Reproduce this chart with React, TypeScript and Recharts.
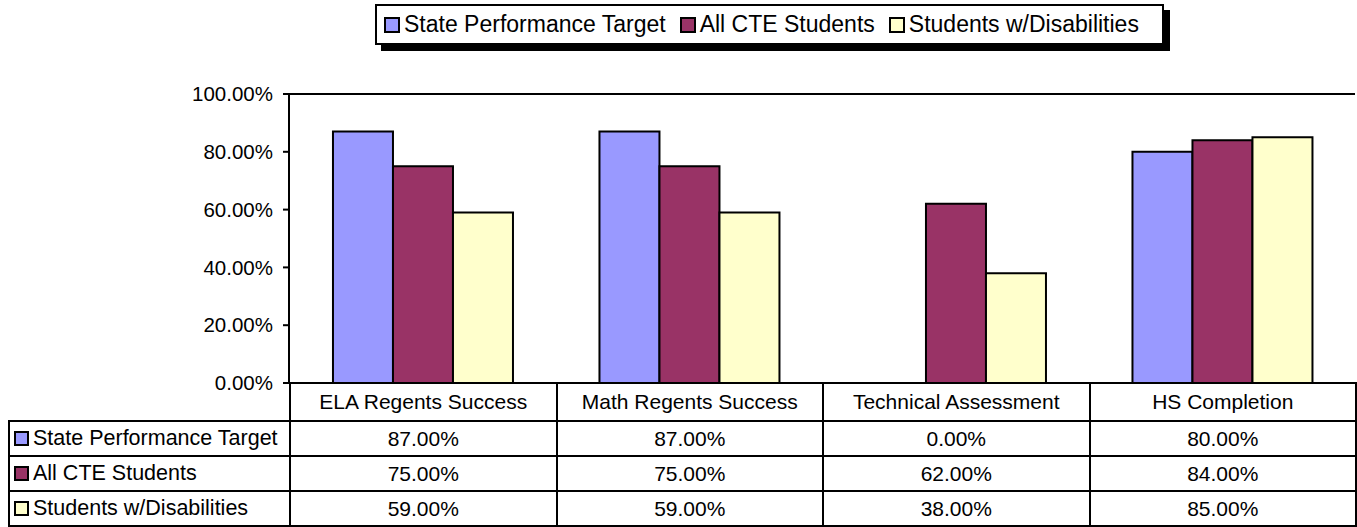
import { BarChart, Bar, XAxis, YAxis, ReferenceLine } from "recharts";

const categories = [
  "ELA Regents Success",
  "Math Regents Success",
  "Technical Assessment",
  "HS Completion",
];
const stateTarget = [0.87, 0.87, 0, 0.8];
const allCte = [0.75, 0.75, 0.62, 0.84];
const disabilities = [0.59, 0.59, 0.38, 0.85];
const yTicks = [0, 0.2, 0.4, 0.6, 0.8, 1];

const series = [
  { key: "target", name: "State Performance Target", color: "#9999FF", values: stateTarget },
  { key: "cte", name: "All CTE Students", color: "#993366", values: allCte },
  { key: "swd", name: "Students w/Disabilities", color: "#FFFFCC", values: disabilities },
];

const data = categories.map((c, i) => ({
  name: c,
  target: stateTarget[i],
  cte: allCte[i],
  swd: disabilities[i],
}));

const font = '"Liberation Sans", Arial, sans-serif';
const pct = (v: number) => `${(v * 100).toFixed(2)}%`;

function Swatch({ color, size = 14, gap = 4 }: { color: string; size?: number; gap?: number }) {
  return (
    <span
      style={{
        display: "inline-block",
        boxSizing: "border-box",
        width: size,
        height: size,
        background: color,
        border: "2px solid #000",
        marginRight: gap,
        flexShrink: 0,
      }}
    />
  );
}

function LegendBox() {
  return (
    <div
      style={{
        position: "absolute",
        left: 375,
        top: 4,
        width: 789,
        height: 41,
        boxSizing: "border-box",
        border: "2px solid #000",
        boxShadow: "6px 6px 0 #000",
        background: "#fff",
        paddingLeft: 7,
        fontFamily: font,
        fontSize: 23,
        color: "#000",
        whiteSpace: "nowrap",
        display: "flex",
        alignItems: "center",
      }}
    >
      {series.map((s) => (
        <span key={s.key} style={{ display: "flex", alignItems: "center", marginRight: 14 }}>
          <Swatch color={s.color} size={16} gap={4} />
          {s.name}
        </span>
      ))}
    </div>
  );
}

const cell = {
  border: "2px solid #000",
  textAlign: "center" as const,
  padding: 0,
  height: 33,
  fontSize: 21,
};

function DataTable() {
  return (
    <table
      style={{
        position: "absolute",
        left: 8,
        top: 382,
        borderCollapse: "collapse",
        tableLayout: "fixed",
        fontFamily: font,
        color: "#000",
      }}
    >
      <colgroup>
        <col style={{ width: 281 }} />
        {categories.map((c) => (
          <col key={c} style={{ width: 266.5 }} />
        ))}
      </colgroup>
      <tbody>
        <tr>
          <td style={{ border: "none", borderRight: "2px solid #000", height: 35 }} />
          {categories.map((c) => (
            <td key={c} style={{ ...cell, height: 35 }}>
              {c}
            </td>
          ))}
        </tr>
        {series.map((s) => (
          <tr key={s.key}>
            <td style={{ ...cell, textAlign: "left", paddingLeft: 4, fontSize: 21.5 }}>
              <span style={{ display: "flex", alignItems: "center" }}>
                <Swatch color={s.color} size={15} gap={4} />
                {s.name}
              </span>
            </td>
            {s.values.map((v, i) => (
              <td key={i} style={cell}>
                {pct(v)}
              </td>
            ))}
          </tr>
        ))}
      </tbody>
    </table>
  );
}

export default function App() {
  return (
    <div style={{ position: "absolute", left: 0, top: 0, width: 1357, height: 527, background: "#fff" }}>
      <BarChart
        width={1357}
        height={527}
        data={data}
        margin={{ top: 94, right: 2, bottom: 144, left: 209 }}
        barCategoryGap="16.5%"
        barGap={0}
      >
        <XAxis dataKey="name" tick={false} tickLine={false} height={0} axisLine={{ stroke: "#000", strokeWidth: 2 }} />
        <YAxis
          yAxisId="left"
          width={80}
          domain={[0, 1]}
          ticks={yTicks}
          tickFormatter={pct}
          tickSize={6}
          tickLine={{ stroke: "#000", strokeWidth: 2 }}
          axisLine={{ stroke: "#000", strokeWidth: 2 }}
          tick={{ fill: "#000", fontSize: 20.5, fontFamily: font }}
          tickMargin={10}
        />
        <YAxis
          yAxisId="right"
          orientation="right"
          width={0}
          domain={[0, 1]}
          tick={false}
          tickLine={false}
          axisLine={{ stroke: "#000", strokeWidth: 2 }}
        />
        <ReferenceLine yAxisId="left" y={1} stroke="#000" strokeWidth={2} />
        {series.map((s) => (
          <Bar
            key={s.key}
            yAxisId="left"
            dataKey={s.key}
            name={s.name}
            fill={s.color}
            stroke="#000"
            strokeWidth={2}
            isAnimationActive={false}
          />
        ))}
      </BarChart>
      <LegendBox />
      <DataTable />
    </div>
  );
}
